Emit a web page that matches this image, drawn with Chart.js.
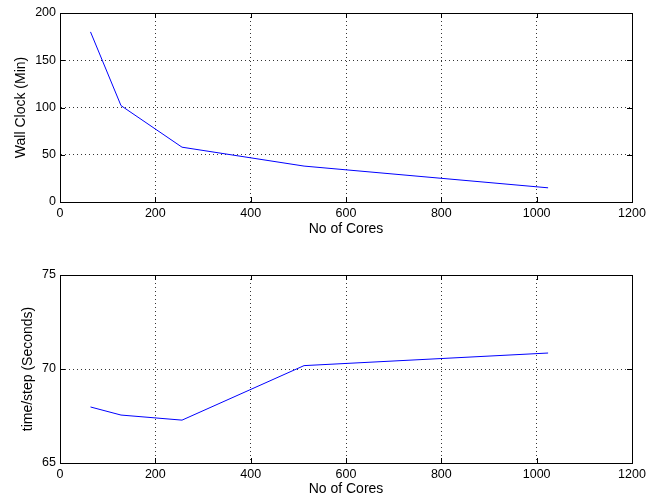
<!DOCTYPE html>
<html><head><meta charset="utf-8">
<script src="https://cdn.jsdelivr.net/npm/chart.js@4.4.0/dist/chart.umd.min.js"></script>
<style>
html,body{margin:0;padding:0;background:#fff;}
#wrap{position:relative;width:660px;height:502px;}
.c{position:absolute;left:0;width:660px;}
</style></head>
<body>
<div id="wrap">
<div class="c" style="top:0;height:240px;"><canvas id="c1"></canvas></div>
<div class="c" style="top:262px;height:240px;"><canvas id="c2"></canvas></div>
</div>
<script>
const cores = [64, 128, 256, 512, 1024];
const wallClock = [180, 102, 58, 38, 15];
const timePerStep = [67.98, 67.55, 67.28, 70.18, 70.85];
const xTicks = [0, 200, 400, 600, 800, 1000, 1200];
const yTicksTop = [0, 50, 100, 150, 200];
const yTicksBottom = [65, 70, 75];

const FONT = "'Liberation Sans', Arial, Helvetica, sans-serif";

const boxPlugin = {
  id: 'box',
  afterDraw(chart) {
    const a = chart.chartArea, ctx = chart.ctx;
    ctx.save();
    ctx.strokeStyle = '#000';
    ctx.lineWidth = 1;
    ctx.setLineDash([]);
    ctx.beginPath();
    const xs = chart.scales.x, ys = chart.scales.y;
    xs.ticks.forEach(t => {
      const px = Math.round(xs.getPixelForValue(t.value)) + 0.5;
      ctx.moveTo(px, a.bottom); ctx.lineTo(px, a.bottom - 5);
      ctx.moveTo(px, a.top); ctx.lineTo(px, a.top + 5);
    });
    ys.ticks.forEach(t => {
      const py = Math.round(ys.getPixelForValue(t.value)) + 0.5;
      ctx.moveTo(a.left, py); ctx.lineTo(a.left + 5, py);
      ctx.moveTo(a.right, py); ctx.lineTo(a.right - 5, py);
    });
    ctx.stroke();
    ctx.strokeRect(Math.round(a.left) + 0.5, Math.round(a.top) + 0.5, Math.round(a.right - a.left), Math.round(a.bottom - a.top));
    ctx.restore();
  }
};

function makeChart(id, yvals, ymin, ymax, yticks, ytitle, axisH, xTitlePad, yTitlePad) {
  return new Chart(document.getElementById(id), {
    type: 'line',
    data: {
      datasets: [{
        data: cores.map((c, i) => ({x: c, y: yvals[i]})),
        borderColor: '#0000ff',
        borderWidth: 1,
        pointRadius: 0,
        tension: 0,
        fill: false
      }]
    },
    options: {
      responsive: true,
      maintainAspectRatio: false,
      animation: false,
      layout: {padding: {top: 13, right: 28, left: 0, bottom: 0}},
      plugins: {legend: {display: false}, tooltip: {enabled: false}},
      scales: {
        x: {
          type: 'linear', min: 0, max: 1200,
          afterBuildTicks: s => { s.ticks = xTicks.map(v => ({value: v})); },
          afterFit: s => { s.height = axisH; },
          ticks: {color: '#000', font: {family: FONT, size: 12.5}, padding: 4, maxRotation: 0,
                  callback: v => String(v)},
          grid: {color: '#000', lineWidth: 0.8, drawTicks: false, drawOnChartArea: true},
          border: {display: true, color: '#000', dash: [1, 3]},
          title: {display: true, text: 'No of Cores', color: '#000', font: {family: FONT, size: 14}, padding: {top: 0, bottom: xTitlePad}}
        },
        y: {
          min: ymin, max: ymax,
          afterBuildTicks: s => { s.ticks = yticks.map(v => ({value: v})); },
          afterFit: s => { s.width = 60; },
          ticks: {color: '#000', font: {family: FONT, size: 12.5}, padding: 4, callback: v => String(v)},
          grid: {color: '#000', lineWidth: 0.8, drawTicks: false},
          border: {display: true, color: '#000', dash: [1, 3]},
          title: {display: true, text: ytitle, color: '#000', font: {family: FONT, size: 14}, padding: {top: yTitlePad, bottom: 0}}
        }
      }
    },
    plugins: [boxPlugin]
  });
}

makeChart('c1', wallClock, 0, 200, yTicksTop, 'Wall Clock (Min)', 38, 2.6, 12.6);
makeChart('c2', timePerStep, 65, 75, yTicksBottom, 'time/step (Seconds)', 39, 4.6, 19.6);
</script>
</body></html>
